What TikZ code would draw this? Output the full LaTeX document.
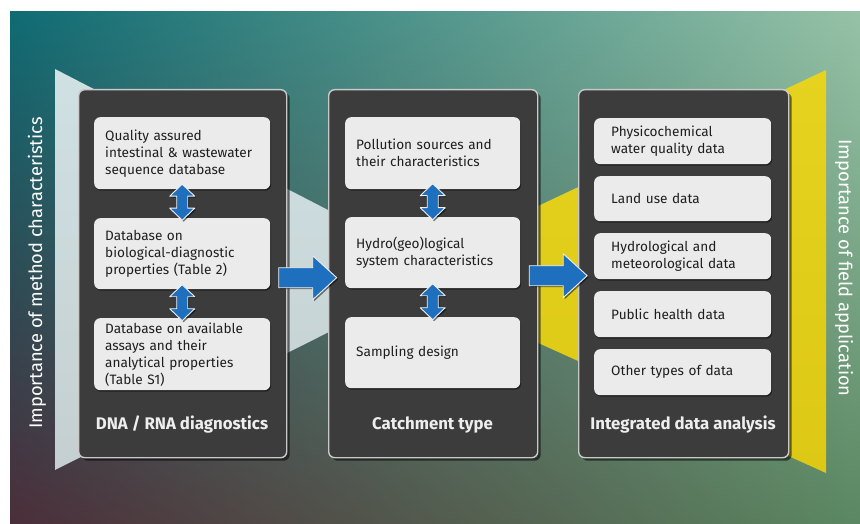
\documentclass[tikz,border=0pt]{standalone}
\usepackage{fontspec}
\setmainfont{Fira Sans}
\usetikzlibrary{shadows,calc,shadings}
\definecolor{bgTL}{HTML}{0F6B73}
\definecolor{bgTR}{HTML}{96C2A7}
\definecolor{bgBL}{HTML}{4B2E3A}
\definecolor{bgBR}{HTML}{5B8862}
\definecolor{wedgeT}{HTML}{CFE1E3}
\definecolor{wedgeB}{HTML}{C5CFD1}
\definecolor{yelT}{HTML}{E5D320}
\definecolor{yelB}{HTML}{DCC815}
\definecolor{boxfill}{HTML}{3C3C3C}
\definecolor{boxedge}{HTML}{C9C9C9}
\definecolor{cellfill}{HTML}{EBEBEB}
\definecolor{celltext}{HTML}{1E1E1E}
\definecolor{arrowblue}{HTML}{1F6FBF}
\definecolor{titletext}{HTML}{EEEEEE}
\tikzset{
  bigbox/.style={draw=boxedge, line width=1.4pt, fill=boxfill, rounded corners=6pt,
    drop shadow={shadow xshift=3pt, shadow yshift=-3pt, opacity=0.55, fill=black},
    inner sep=0pt, anchor=north west},
  cell/.style={fill=cellfill, rounded corners=6pt, anchor=north west, inner ysep=0pt,
    align=left, text=celltext, font=\fontsize{13.6}{17}\selectfont,
    drop shadow={shadow xshift=1pt, shadow yshift=-1.5pt, opacity=0.45, fill=black}},
  cellA/.style={cell, inner xsep=11pt, text width=154pt, minimum width=176pt},
  cellC/.style={cell, inner xsep=17pt, text width=143pt, minimum width=177pt},
  boxtitle/.style={font=\bfseries\fontsize{16.8}{20}\selectfont, text=titletext},
  sidetext/.style={font=\fontsize{18.3}{22}\selectfont, text=white},
  bluearrow/.style={fill=arrowblue, draw=white!88!gray, line width=0.9pt, line join=round,
    drop shadow={shadow xshift=1.5pt, shadow yshift=-1.5pt, opacity=0.5, fill=black}},
}
\newcommand\vdarr[1]{\draw[bluearrow, shift={#1}] (0,-18) -- (12.5,-6) -- (5.5,-6) -- (5.5,6) -- (12.5,6) -- (0,18) -- (-12.5,6) -- (-5.5,6) -- (-5.5,-6) -- (-12.5,-6) -- cycle;}
\newcommand\hbarr[1]{\draw[bluearrow, shift={#1}] (-29,-10) -- (5,-10) -- (5,-22) -- (29,0) -- (5,22) -- (5,10) -- (-29,10) -- cycle;}
\begin{document}
\begin{tikzpicture}[x=1pt,y=-1pt]
\useasboundingbox (0,0) rectangle (860,524);
\fill[white] (0,0) rectangle (860,524);
\shade[upper left=bgTL, upper right=bgTR, lower left=bgBL, lower right=bgBR] (10,12) rectangle (860,524);
% wedges
\shade[top color=wedgeT, bottom color=wedgeB] (55,69) -- (448,272) -- (55,470) -- cycle;
\shade[top color=yelT, bottom color=yelB] (826,70) -- (390,276) -- (826,473) -- cycle;
% side texts
\node[sidetext, rotate=90] (lt) at (37,273) {Importance of method characteristics};
\node[sidetext, rotate=-90] (rt) at (844,268) {Importance of field application};
% big boxes
\node[bigbox, minimum width=208pt, minimum height=368pt] (b1) at (78,89) {};
\node[bigbox, minimum width=209pt, minimum height=368pt] (b2) at (328,89) {};
\node[bigbox, minimum width=210pt, minimum height=368pt] (b3) at (578,89) {};
% titles
\node[boxtitle] (t1) at (182,425) {DNA / RNA diagnostics};
\node[boxtitle] (t2) at (432.5,425) {Catchment type};
\node[boxtitle] (t3) at (683,425) {Integrated data analysis};
% column 1
\node[cellA, minimum height=72pt] (a1) at (94,117) {Quality assured\\intestinal \& wastewater\\sequence database};
\node[cellA, minimum height=71pt] (a2) at (94,218) {Database on\\biological-diagnostic\\properties (Table 2)};
\node[cellA, minimum height=72pt] (a3) at (94,318) {Database on available\\assays and their\\analytical properties\\(Table S1)};
% column 2
\node[cellA, text width=153pt, minimum width=175pt, minimum height=72pt] (c1) at (345,117) {Pollution sources and\\their characteristics};
\node[cellA, text width=153pt, minimum width=175pt, minimum height=71pt] (c2) at (345,217) {Hydro(geo)logical\\system characteristics};
\node[cellA, text width=153pt, minimum width=175pt, minimum height=71pt] (c3) at (345,317) {Sampling design};
% column 3
\node[cellC, minimum height=46pt] (d1) at (594,118) {Physicochemical\\water quality data};
\node[cellC, minimum height=45pt] (d2) at (594,176) {Land use data};
\node[cellC, minimum height=46pt] (d3) at (594,233) {Hydrological and\\meteorological data};
\node[cellC, minimum height=46pt] (d4) at (594,291) {Public health data};
\node[cellC, minimum height=46pt] (d5) at (594,349) {Other types of data};
% vertical double arrows
\vdarr{($(a1.south)!0.5!(a2.north)+(0,-1.5)$)}
\vdarr{($(a2.south)!0.5!(a3.north)+(0,-1)$)}
\vdarr{($(c1.south)!0.5!(c2.north)+(0,-1.5)$)}
\vdarr{($(c2.south)!0.5!(c3.north)+(0,-1)$)}
% horizontal arrows
\hbarr{($(b1.east)!0.5!(b2.west)+(0,4)$)}
\hbarr{($(b2.east)!0.5!(b3.west)+(0,2)$)}
\end{tikzpicture}
\end{document}
